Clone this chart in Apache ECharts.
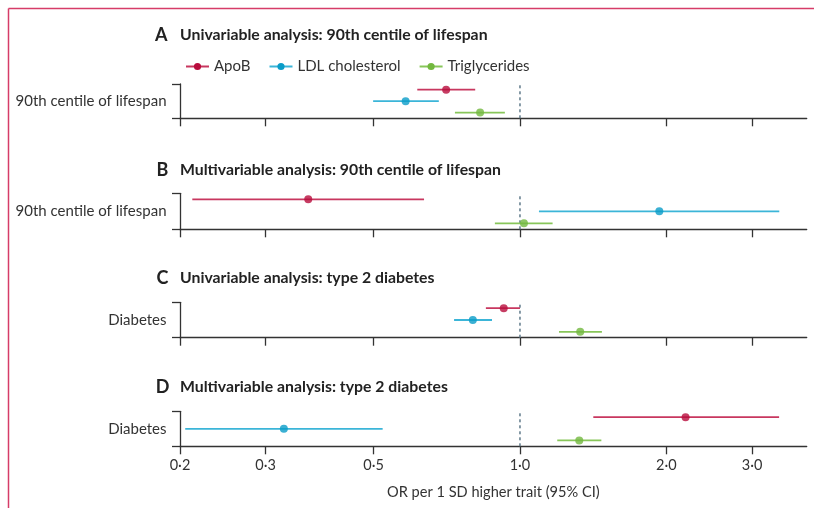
<!DOCTYPE html>
<html>
<head>
<meta charset="utf-8">
<script src="https://cdn.jsdelivr.net/npm/echarts@6/dist/echarts.min.js"></script>
<style>html,body{margin:0;padding:0;background:#fff;}#c{width:814px;height:508px;}</style>
</head>
<body>
<div id="c"></div>
<script>
// ---- data ----
const traits = ['ApoB', 'LDL cholesterol', 'Triglycerides'];
const panelLetters = ['A', 'B', 'C', 'D'];
const panelTitles = [
  'Univariable analysis: 90th centile of lifespan',
  'Multivariable analysis: 90th centile of lifespan',
  'Univariable analysis: type 2 diabetes',
  'Multivariable analysis: type 2 diabetes'
];
const outcomeLabels = ['90th centile of lifespan', '90th centile of lifespan', 'Diabetes', 'Diabetes'];
const xTicks = [0.2, 0.3, 0.5, 1.0, 2.0, 3.0];
// [estimate, lower, upper] per panel, per trait
const apoB = [[0.705, 0.615, 0.809], [0.367, 0.212, 0.635], [0.926, 0.851, 1.00], [2.19, 1.415, 3.41]];
const ldl  = [[0.582, 0.499, 0.681], [1.934, 1.094, 3.413], [0.80, 0.732, 0.876], [0.327, 0.205, 0.522]];
const tg   = [[0.828, 0.735, 0.931], [1.019, 0.888, 1.167], [1.33, 1.203, 1.474], [1.324, 1.193, 1.47]];
const traitData = [apoB, ldl, tg];
const rowPos = [2.5, 1.5, 0.5];

// ---- styles ----
const lineColors = ['#c8375f', '#3bb5d8', '#88c65a'];
const pointColors = ['#b80c3c', '#0a9cc8', '#72b83e'];
const FONT = 'Lato';
const axisColor = '#333';
const gridTops = [84, 193.3, 302.3, 411.3];
const gridHeights = [34.3, 36, 35.4, 35];
const titleY = [35, 170, 278.3, 386.7];
const letterX = [155, 156.5, 156.5, 155.7];

const grids = [], xAxes = [], yAxes = [], series = [], graphics = [];
for (let p = 0; p < 4; p++) {
  grids.push({ left: 180, right: 7.3, top: gridTops[p], height: gridHeights[p] });
  xAxes.push({
    type: 'log', logBase: 10, gridIndex: p, min: 0.2, max: 3.886,
    axisLine: { lineStyle: { color: axisColor, width: 1.3 } },
    axisTick: { show: true, length: 8, customValues: xTicks, lineStyle: { color: axisColor, width: 1.3 } },
    axisLabel: {
      show: p === 3, customValues: xTicks, margin: 12, fontSize: 14.5, fontFamily: FONT, color: '#333',
      formatter: v => Number(v).toFixed(1).replace('.', '\u00b7')
    },
    splitLine: { show: false }, minorTick: { show: false },
    name: p === 3 ? 'OR per 1 SD higher trait (95% CI)' : '',
    nameLocation: 'middle', nameGap: 46,
    nameTextStyle: { fontSize: 14.6, fontFamily: FONT, color: '#333', verticalAlign: 'middle' }
  });
  yAxes.push({
    type: 'value', gridIndex: p, min: 0, max: 3, interval: 3,
    axisLine: { show: true, lineStyle: { color: axisColor, width: 1.3 } },
    axisTick: { show: true, length: 8, lineStyle: { color: axisColor, width: 1.3 } },
    axisLabel: { show: false }, splitLine: { show: false },
    name: outcomeLabels[p], nameLocation: 'middle', nameRotate: 0, nameGap: 13.5,
    nameTextStyle: { fontSize: 15, fontFamily: FONT, color: '#333', align: 'right', verticalAlign: 'middle' }
  });
  // reference line at OR = 1
  series.push({
    type: 'line', name: 'ref' + p, xAxisIndex: p, yAxisIndex: p, silent: true,
    data: [[1, 0], [1, 3]], showSymbol: false, symbol: 'none', z: 1,
    lineStyle: { color: '#5f7a8a', width: 1.5, type: [3, 3] }
  });
  for (let t = 0; t < 3; t++) {
    const d = traitData[t][p];
    series.push({
      type: 'line', name: traits[t], xAxisIndex: p, yAxisIndex: p, silent: true,
      data: [[d[1], rowPos[t]], [d[2], rowPos[t]]], symbol: 'circle', showSymbol: false, z: 2,
      lineStyle: { color: lineColors[t], width: 1.8 }, itemStyle: { color: pointColors[t] }
    });
    series.push({
      type: 'scatter', name: traits[t], xAxisIndex: p, yAxisIndex: p, silent: true,
      data: [[d[0], rowPos[t]]], symbol: 'circle', symbolSize: 8, z: 3,
      itemStyle: { color: pointColors[t] }
    });
  }
  graphics.push({
    type: 'text', x: letterX[p], y: titleY[p],
    style: { text: panelLetters[p], fontSize: 18, fontWeight: 'bold', fontFamily: FONT, fill: '#222', verticalAlign: 'middle' }
  });
  graphics.push({
    type: 'text', x: 180, y: titleY[p],
    style: { text: panelTitles[p], fontSize: 15.8, fontWeight: 'bold', fontFamily: FONT, fill: '#222', verticalAlign: 'middle' }
  });
}
graphics.push({ type: 'line', shape: { x1: 8.5, y1: 8.5, x2: 814, y2: 8.5 }, style: { stroke: '#d63c68', lineWidth: 1.5 } });
graphics.push({ type: 'line', shape: { x1: 8.5, y1: 8.5, x2: 8.5, y2: 508 }, style: { stroke: '#d63c68', lineWidth: 1.5 } });

const chart = echarts.init(document.getElementById('c'), null, { renderer: 'canvas' });
chart.setOption({
  backgroundColor: '#fff',
  animation: false,
  legend: {
    data: traits, left: 180, top: 54, itemWidth: 23, itemHeight: 9, itemGap: 18,
    textStyle: { fontSize: 15, fontFamily: FONT, color: '#333' },
    selectedMode: false
  },
  grid: grids, xAxis: xAxes, yAxis: yAxes, series: series, graphic: graphics
});
</script>
</body>
</html>
